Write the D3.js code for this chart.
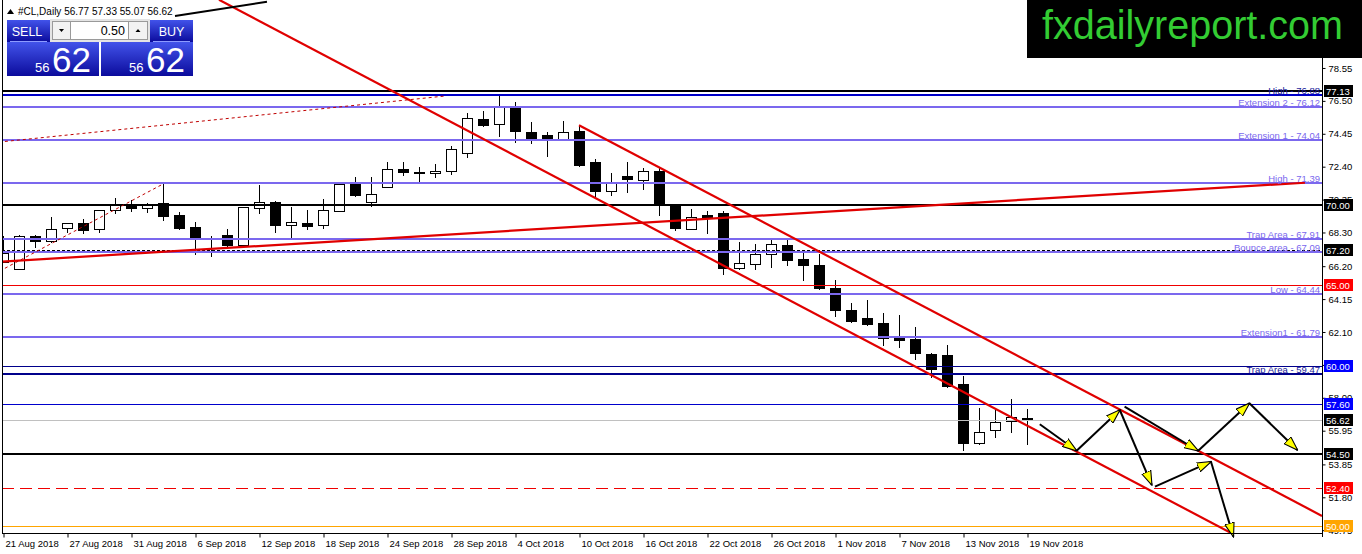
<!DOCTYPE html>
<html>
<head>
<meta charset="utf-8">
<script src="https://cdn.jsdelivr.net/npm/d3@7"></script>
<style>
  body { margin: 0; background: #fff; }
  text { font-family: "Liberation Sans", Arial, sans-serif; }
</style>
</head>
<body>
<div id="chart"></div>
<script>

// ---- data ----
var symbol = "#CL,Daily";

var opens  = [66.47,66.02,68.08,67.79,68.54,68.88,68.47,69.68,70.01,69.85,70.12,69.39,68.64,67.93,68.13,67.48,69.85,70.18,68.72,68.87,
              68.72,69.66,71.32,70.19,71.12,72.24,72.06,71.98,72.12,73.23,75.35,75.10,76.04,74.58,74.35,74.14,74.64,72.67,70.90,71.82,
              71.61,72.15,70.07,68.56,69.39,69.49,66.07,66.32,66.94,67.53,66.65,66.28,64.82,63.47,62.95,62.65,61.71,61.64,60.73,60.67,
              58.86,55.20,55.95,56.51,56.77];
var highs  = [68.08,68.14,68.14,69.29,68.92,69.12,69.70,70.47,70.32,70.15,71.32,69.56,68.97,68.10,68.50,69.90,71.24,70.26,69.91,69.70,
              70.39,71.32,71.74,71.74,72.71,72.71,72.36,72.54,73.69,75.77,75.87,76.87,76.45,75.16,74.54,75.25,74.99,72.90,72.02,72.71,
              72.30,72.30,70.10,69.76,69.64,69.64,67.69,67.57,67.84,67.90,67.00,66.94,65.34,63.93,64.09,63.27,63.16,62.39,60.81,61.29,
              59.36,57.38,57.24,57.93,57.33];
var lows   = [66.40,65.96,67.33,67.62,68.29,68.19,68.29,69.45,69.59,69.49,69.03,68.45,66.90,66.80,67.41,67.45,69.45,68.29,67.98,68.45,
              68.50,69.60,70.53,69.91,71.10,71.82,71.46,71.68,71.87,72.92,74.89,74.27,73.86,73.81,73.02,74.10,72.36,70.53,70.57,70.78,
              70.95,69.33,68.41,68.46,68.19,65.65,65.96,65.96,66.10,66.23,65.26,64.72,63.05,62.64,62.49,61.23,61.12,60.36,59.21,58.63,
              54.70,55.06,55.51,55.79,55.07];
var closes = [67.03,68.08,67.79,68.52,68.88,68.47,69.68,70.00,69.85,70.01,69.28,68.60,67.93,67.90,67.48,69.87,70.22,68.72,68.93,68.66,
              69.68,71.32,70.64,70.68,72.24,72.03,71.98,72.12,73.48,75.42,74.95,76.14,74.58,74.23,74.14,74.58,72.55,70.84,71.46,71.63,
              72.15,70.01,68.56,69.28,69.18,66.07,66.38,66.94,67.57,66.60,66.28,64.86,63.47,62.79,62.60,61.71,61.56,60.77,59.77,58.75,
              55.20,55.89,56.47,56.79,56.62];

var dateTickBars = [0,4,8,12,16,20,24,28,32,36,40,44,48,52,56,60,64];
var dateTickLabels = ["21 Aug 2018","27 Aug 2018","31 Aug 2018","6 Sep 2018","12 Sep 2018","18 Sep 2018","24 Sep 2018",
                      "28 Sep 2018","4 Oct 2018","10 Oct 2018","16 Oct 2018","22 Oct 2018","26 Oct 2018","1 Nov 2018",
                      "7 Nov 2018","13 Nov 2018","19 Nov 2018"];

var priceTicks = [78.55,76.50,74.45,72.40,70.35,68.30,66.20,64.15,62.10,60.05,58.00,55.95,53.85,51.80,49.75];

// horizontal levels
var levelPrices = [77.13,76.88,76.12,74.04,71.39,70.00,67.91,67.20,67.09,65.00,64.44,61.79,60.00,59.47,57.60,56.62,54.50,52.40,50.00];
var levelKinds  = ["major","high","fib","fib","fib","major","fib","dash","fib","red","fib","fib","navy","navyThick","blue","bid","major","redDash","orange"];
var levelNames  = ["","High - 76.88","Extension 2 - 76.12","Extension 1 - 74.04","High - 71.39","","Trap Area - 67.91","",
                   "Bounce area - 67.09","","Low - 64.44","Extension1 - 61.79","","Trap Area - 59.47","","","","",""];
var boxedLevels = [77.13,70.00,67.20,65.00,60.00,57.60,56.62,54.50,52.40,50.00];

// trend lines: [bar index, price]
var channelLow  = [[13.5, 82.8], [76.9, 49.5]];
var channelHigh = [[36, 74.98], [82.44, 50.64]];
var supportLine = [[-0.19, 66.48], [81.37, 71.40]];
var dottedLong  = [[0.12, 73.97], [27.6, 76.80]];
var dottedSteep = [[0.12, 66.07], [10.0, 71.32]];
var topBlack    = [[10.75, 81.79], [16.5, 82.68]];

// projected path arrows
var arrows = [
  [[64.8, 56.35], [67.1, 54.70]],
  [[67.1, 54.70], [69.8, 57.24]],
  [[69.8, 57.24], [71.8, 52.57]],
  [[72.0, 52.46], [75.5, 54.02]],
  [[75.5, 54.02], [76.9, 49.35]],
  [[70.1, 57.45], [74.7, 54.70]],
  [[74.7, 54.70], [77.9, 57.66]],
  [[77.9, 57.66], [80.9, 54.75]]
];

// ---- layout ----
var W = 1362, H = 554;
var plot = {left: 2, right: 1322, top: 0, bottom: 533};

var x = d3.scaleLinear().domain([0, 64]).range([3, 1027]);
var y = d3.scaleLinear().domain([49.576, 82.785]).range([plot.bottom, plot.top]);

var lineStyle = {
  major:     {stroke: "#000",    width: 2},
  high:      {stroke: "#0000c8", width: 2,   text: "#1a1a9a"},
  fib:       {stroke: "#7b68ee", width: 2,   text: "#7b68ee"},
  dash:      {stroke: "#000",    width: 1,   dash: "3,2"},
  red:       {stroke: "#f00000", width: 1},
  navy:      {stroke: "#00008b", width: 1},
  navyThick: {stroke: "#00008b", width: 2,   text: "#1a1a9a"},
  blue:      {stroke: "#0000cd", width: 1},
  bid:       {stroke: "#c0c0c0", width: 1},
  redDash:   {stroke: "#f00000", width: 1,   dash: "12,6"},
  orange:    {stroke: "#ffa500", width: 1}
};
var boxFill = {major: "#000", dash: "#000", bid: "#000", red: "#f00", redDash: "#f00", navy: "#0000ff", blue: "#0000ff", orange: "#ffa500"};

// keep thin lines on whole pixels so they stay sharp
function crispY(p, w) {
  var v = Math.round(y(p));
  return w % 2 ? v + 0.5 : v;
}

var svg = d3.select("#chart").append("svg")
    .attr("width", W).attr("height", H);

var defs = svg.append("defs");
defs.append("clipPath").attr("id", "plotClip")
  .append("rect")
    .attr("x", plot.left).attr("y", plot.top)
    .attr("width", plot.right - plot.left).attr("height", plot.bottom - plot.top);

var grad = defs.append("linearGradient").attr("id", "blueGrad")
    .attr("x1", 0).attr("y1", 0).attr("x2", 0).attr("y2", 1);
grad.append("stop").attr("offset", "0%").attr("stop-color", "#4253ea");
grad.append("stop").attr("offset", "100%").attr("stop-color", "#0b0b9c");

defs.append("marker").attr("id", "yellowHead")
    .attr("viewBox", "0 0 14 10").attr("refX", 13).attr("refY", 5)
    .attr("markerWidth", 15).attr("markerHeight", 11)
    .attr("markerUnits", "userSpaceOnUse").attr("orient", "auto")
  .append("path")
    .attr("d", "M0,0.5 L13.5,5 L0,9.5 Z")
    .attr("fill", "#ffff00").attr("stroke", "#000").attr("stroke-width", 1);

var chart = svg.append("g").attr("clip-path", "url(#plotClip)");

// ---- candles ----
var bars = d3.range(opens.length).map(function(i) {
  return {i: i, o: opens[i], h: highs[i], l: lows[i], c: closes[i]};
});

var candle = chart.append("g").attr("class", "candles")
  .selectAll("g").data(bars).enter().append("g");

candle.append("line")
    .attr("x1", function(d) { return Math.round(x(d.i)) + 0.5; })
    .attr("x2", function(d) { return Math.round(x(d.i)) + 0.5; })
    .attr("y1", function(d) { return Math.round(y(d.h)); })
    .attr("y2", function(d) { return Math.round(y(d.l)); })
    .attr("stroke", "#000").attr("stroke-width", 1)
    .attr("shape-rendering", "crispEdges");

candle.append("rect")
    .attr("x", function(d) { return Math.round(x(d.i)) - 4.5; })
    .attr("width", 10)
    .attr("y", function(d) { return Math.round(y(Math.max(d.o, d.c))) + 0.5; })
    .attr("height", function(d) { return Math.max(1, Math.round(Math.abs(y(d.o) - y(d.c)))); })
    .attr("fill", function(d) { return d.c >= d.o ? "#fff" : "#000"; })
    .attr("stroke", "#000").attr("stroke-width", 1);

// ---- horizontal levels ----
var levels = levelPrices.map(function(p, i) { return {p: p, kind: levelKinds[i], name: levelNames[i]}; });

chart.append("g").selectAll("line").data(levels).enter().append("line")
    .attr("x1", plot.left).attr("x2", plot.right)
    .attr("y1", function(d) { return crispY(d.p, lineStyle[d.kind].width); })
    .attr("y2", function(d) { return crispY(d.p, lineStyle[d.kind].width); })
    .attr("stroke", function(d) { return lineStyle[d.kind].stroke; })
    .attr("stroke-width", function(d) { return lineStyle[d.kind].width; })
    .attr("stroke-dasharray", function(d) { return lineStyle[d.kind].dash || null; })
    .attr("shape-rendering", "crispEdges");

svg.append("g").selectAll("text").data(levels.filter(function(d) { return d.name; })).enter().append("text")
    .attr("x", plot.right - 2)
    .attr("y", function(d) { return Math.round(y(d.p)) - 1.5; })
    .attr("text-anchor", "end")
    .attr("font-size", "9.5px")
    .attr("fill", function(d) { return lineStyle[d.kind].text; })
    .text(function(d) { return d.name; });

// ---- trend lines ----
var seg = d3.line()
    .x(function(d) { return x(d[0]); })
    .y(function(d) { return y(d[1]); });

[channelLow, channelHigh, supportLine].forEach(function(t) {
  chart.append("path").attr("d", seg(t))
      .attr("fill", "none").attr("stroke", "#e00000").attr("stroke-width", 2.2);
});
[dottedLong, dottedSteep].forEach(function(t) {
  chart.append("path").attr("d", seg(t))
      .attr("fill", "none").attr("stroke", "#c00000").attr("stroke-width", 1)
      .attr("stroke-dasharray", "3,3");
});
chart.append("path").attr("d", seg(topBlack))
    .attr("fill", "none").attr("stroke", "#000").attr("stroke-width", 2);

// ---- arrows ----
svg.append("g").selectAll("path").data(arrows).enter().append("path")
    .attr("d", function(d) { return seg(d); })
    .attr("fill", "none").attr("stroke", "#000").attr("stroke-width", 2)
    .attr("marker-end", "url(#yellowHead)");

// ---- frame + axes ----
var frame = svg.append("g").attr("shape-rendering", "crispEdges");
frame.append("line").attr("x1", plot.left + 0.5).attr("x2", plot.left + 0.5)
    .attr("y1", plot.top).attr("y2", plot.bottom).attr("stroke", "#000");
frame.append("line").attr("x1", plot.left).attr("x2", plot.right + 0.5)
    .attr("y1", plot.bottom + 0.5).attr("y2", plot.bottom + 0.5).attr("stroke", "#000");
frame.append("line").attr("x1", plot.right + 0.5).attr("x2", plot.right + 0.5)
    .attr("y1", plot.top).attr("y2", plot.bottom + 4).attr("stroke", "#000");

var yAxis = svg.append("g")
    .attr("transform", "translate(" + (plot.right + 0.5) + ",0)")
    .call(d3.axisRight(y).tickValues(priceTicks).tickFormat(d3.format(".2f")).tickSize(3).tickPadding(3).tickSizeOuter(0));
yAxis.select(".domain").remove();
yAxis.selectAll("text").attr("font-size", "9.5px").attr("font-family", null).attr("fill", "#000");

var xAxis = svg.append("g")
    .attr("transform", "translate(0," + (plot.bottom + 0.5) + ")")
    .call(d3.axisBottom(x).tickValues(dateTickBars)
          .tickFormat(function(d, i) { return dateTickLabels[i]; }).tickSize(4).tickPadding(3).tickSizeOuter(0));
xAxis.select(".domain").remove();
xAxis.selectAll(".tick line").attr("transform", "translate(0.5,0)");
xAxis.selectAll("text").attr("text-anchor", "start").attr("x", 2)
    .attr("font-size", "9.5px").attr("font-family", null).attr("fill", "#000");

// level boxes on the price axis (they sit over the tick labels, as in the terminal)
var boxes = levels.filter(function(d) { return boxedLevels.indexOf(d.p) >= 0; });
var bx = svg.append("g").selectAll("g").data(boxes).enter().append("g")
    .attr("transform", function(d) { return "translate(" + (plot.right + 2) + "," + Math.round(y(d.p)) + ")"; });
bx.append("rect").attr("x", 0).attr("y", -6).attr("width", 29).attr("height", 12)
    .attr("fill", function(d) { return boxFill[d.kind]; });
bx.append("text").attr("x", 2).attr("y", 3.5).attr("font-size", "9.5px").attr("fill", "#fff")
    .text(function(d) { return d.p.toFixed(2); });

// ---- header ----
var last = bars[bars.length - 1];
svg.append("path").attr("d", "M7,14 L10.5,9 L14,14 Z").attr("fill", "#000");
svg.append("text").attr("x", 18).attr("y", 15).attr("font-size", "10px").attr("fill", "#000")
    .text(symbol + " " + [last.o, last.h, last.l, last.c].map(function(v) { return v.toFixed(2); }).join(" "));

// ---- one-click trading panel ----
var bid = last.c.toFixed(2).split(".");
var panel = svg.append("g");
panel.append("rect").attr("x", 50).attr("y", 19).attr("width", 100).attr("height", 23).attr("fill", "#e4e4e4");
panel.append("rect").attr("x", 7).attr("y", 20).attr("width", 43).attr("height", 22).attr("fill", "url(#blueGrad)");
panel.append("rect").attr("x", 150).attr("y", 20).attr("width", 43).attr("height", 22).attr("fill", "url(#blueGrad)");
panel.append("rect").attr("x", 52.5).attr("y", 21.5).attr("width", 18).attr("height", 18)
    .attr("fill", "#f2f2f2").attr("stroke", "#9a9a9a");
panel.append("rect").attr("x", 70.5).attr("y", 21.5).attr("width", 58).attr("height", 18)
    .attr("fill", "#fff").attr("stroke", "#9a9a9a");
panel.append("rect").attr("x", 128.5).attr("y", 21.5).attr("width", 19).attr("height", 18)
    .attr("fill", "#f2f2f2").attr("stroke", "#9a9a9a");
panel.append("path").attr("d", "M59,29 L64,29 L61.5,32 Z").attr("fill", "#000");
panel.append("path").attr("d", "M135.5,32 L140.5,32 L138,29 Z").attr("fill", "#000");
panel.append("text").attr("x", 125).attr("y", 35).attr("text-anchor", "end")
    .attr("font-size", "12.5px").attr("fill", "#000").text("0.50");
panel.append("text").attr("x", 27).attr("y", 35.5).attr("text-anchor", "middle")
    .attr("font-size", "12.5px").attr("fill", "#fff").text("SELL");
panel.append("text").attr("x", 171.5).attr("y", 35.5).attr("text-anchor", "middle")
    .attr("font-size", "12.5px").attr("fill", "#fff").text("BUY");
panel.append("line").attr("x1", 10).attr("x2", 47).attr("y1", 41.5).attr("y2", 41.5).attr("stroke", "#8d9bff");
panel.append("line").attr("x1", 153).attr("x2", 190).attr("y1", 41.5).attr("y2", 41.5).attr("stroke", "#8d9bff");

[7, 101].forEach(function(bx0) {
  panel.append("rect").attr("x", bx0).attr("y", 42).attr("width", 92).attr("height", 34).attr("fill", "url(#blueGrad)");
  panel.append("text").attr("x", bx0 + 28).attr("y", 72).attr("font-size", "13px").attr("fill", "#fff").text(bid[0]);
  panel.append("text").attr("x", bx0 + 45).attr("y", 72).attr("font-size", "35px").attr("fill", "#fff").text(bid[1]);
});

// ---- site logo ----
svg.append("rect").attr("x", 1027).attr("y", 0).attr("width", 335).attr("height", 58).attr("fill", "#000");
svg.append("text").attr("x", 1042).attr("y", 39).attr("font-size", "40px").attr("fill", "#33cc33")
    .attr("textLength", 301).attr("lengthAdjust", "spacingAndGlyphs")
    .text("fxdailyreport.com");

</script>
</body>
</html>
